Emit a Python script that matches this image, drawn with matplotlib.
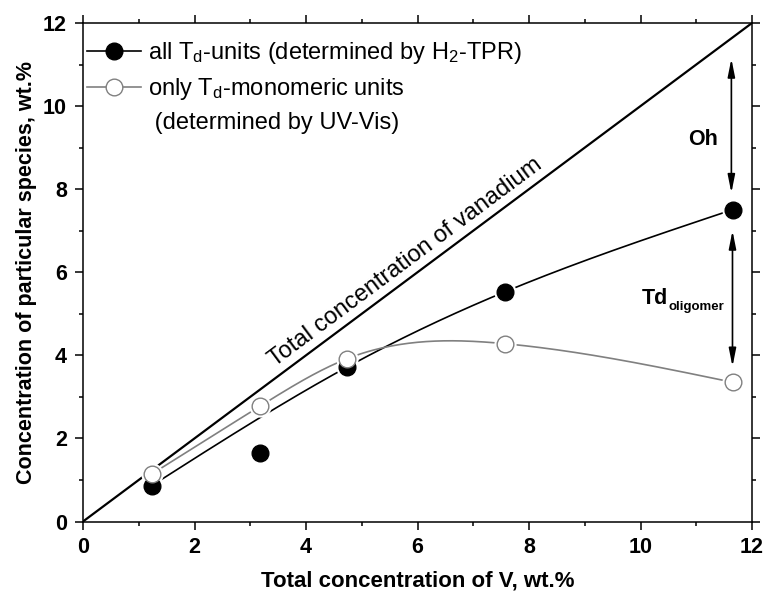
import numpy as np
import matplotlib
matplotlib.use("Agg")
import matplotlib.pyplot as plt
from matplotlib.lines import Line2D
from matplotlib.ticker import MultipleLocator

plt.rcParams['font.family'] = ['Liberation Sans', 'DejaVu Sans']
plt.rcParams['mathtext.fontset'] = 'custom'
plt.rcParams['mathtext.rm'] = 'Liberation Sans'
plt.rcParams['mathtext.it'] = 'Liberation Sans:italic'
plt.rcParams['mathtext.bf'] = 'Liberation Sans:bold'

# ---- data ----
total_v = [1.23, 3.18, 4.74, 7.57, 11.66]
all_td = [0.86, 1.66, 3.72, 5.53, 7.51]
mono_td = [1.14, 2.78, 3.92, 4.28, 3.35]
# the smoothed black curve skips the 2nd sample
all_td_curve_idx = [0, 2, 3, 4]

label_all = r'all T$_{\mathregular{d}}$-units (determined by H$_{\mathregular{2}}$-TPR)'
label_mono = r'only T$_{\mathregular{d}}$-monomeric units'
label_mono2 = ' (determined by UV-Vis)'
xlabel = 'Total concentration of V, wt.%'
ylabel = 'Concentration of particular species, wt.%'
diag_label = 'Total concentration of vanadium'

oh_arrow = (11.63, 11.14, 7.91)
td_arrow = (11.65, 7.0, 3.73)


def natural_spline(x, y, n=200):
    x = np.asarray(x, float)
    y = np.asarray(y, float)
    m = len(x)
    h = np.diff(x)
    A = np.zeros((m, m))
    b = np.zeros(m)
    A[0, 0] = 1
    A[-1, -1] = 1
    for i in range(1, m - 1):
        A[i, i - 1] = h[i - 1]
        A[i, i] = 2 * (h[i - 1] + h[i])
        A[i, i + 1] = h[i]
        b[i] = 6 * ((y[i + 1] - y[i]) / h[i] - (y[i] - y[i - 1]) / h[i - 1])
    M = np.linalg.solve(A, b)
    xs = np.linspace(x[0], x[-1], n)
    ys = np.empty_like(xs)
    for k, xv in enumerate(xs):
        i = min(np.searchsorted(x, xv) - 1, m - 2)
        i = max(i, 0)
        t1 = x[i + 1] - xv
        t0 = xv - x[i]
        ys[k] = (M[i] * t1 ** 3 / (6 * h[i]) + M[i + 1] * t0 ** 3 / (6 * h[i])
                 + (y[i] / h[i] - M[i] * h[i] / 6) * t1
                 + (y[i + 1] / h[i] - M[i + 1] * h[i] / 6) * t0)
    return xs, ys


fig = plt.figure(figsize=(7.64, 5.97), dpi=100)
ax = fig.add_axes([83 / 764, 1 - 521.5 / 597, (752 - 83) / 764, (521.5 - 23) / 597])

ax.set_xlim(0, 12)
ax.set_ylim(0, 12)

# diagonal
ax.plot([0, 12], [0, 12], color='black', lw=1.6, zorder=2)

# smoothed curves
xa = [total_v[i] for i in all_td_curve_idx]
ya = [all_td[i] for i in all_td_curve_idx]
xs, ys = natural_spline(xa, ya)
ax.plot(xs, ys, color='black', lw=1.2, zorder=2)
xs2, ys2 = natural_spline(total_v, mono_td)
ax.plot(xs2, ys2, color='#808080', lw=1.2, zorder=2)

# white halos (gap between line and marker)
ax.plot(total_v, all_td, ls='none', marker='o', ms=16, mfc='white', mec='none', zorder=3)
ax.plot(total_v, mono_td, ls='none', marker='o', ms=16, mfc='white', mec='none', zorder=3)
ax.plot(total_v, all_td, ls='none', marker='o', ms=12, mfc='black', mec='black', zorder=4)
ax.plot(total_v, mono_td, ls='none', marker='o', ms=12, mfc='white', mec='#808080', mew=1.0, zorder=5)

# diagonal label
ax.text(5.78, 6.25, diag_label, fontsize=17, rotation=45, transform_rotates_text=True,
        rotation_mode='anchor', ha='center', va='center', transform=ax.transData)

# arrows
arrowprops = dict(arrowstyle='<|-|>,head_width=0.18,head_length=0.9', color='black', lw=1.2,
                  shrinkA=0, shrinkB=0, mutation_scale=12)
ax.annotate('', xy=(oh_arrow[0], oh_arrow[2]), xytext=(oh_arrow[0], oh_arrow[1]), arrowprops=arrowprops)
ax.annotate('', xy=(td_arrow[0], td_arrow[2]), xytext=(td_arrow[0], td_arrow[1]), arrowprops=arrowprops)
ax.text(11.12, 9.19, 'Oh', fontsize=15.5, fontweight='bold', ha='center', va='center')
td_txt = ax.text(10.02, 5.38, 'Td', fontsize=15.5, fontweight='bold', ha='left', va='center')
ax.annotate('oligomer', xy=(1.02, 0.05), xycoords=td_txt, fontsize=9.5, fontweight='bold',
            ha='left', va='center')

# legend
h1 = Line2D([], [], color='black', lw=1.2, marker='o', ms=12, mfc='black', mec='black')
h2 = Line2D([], [], color='#808080', lw=1.2, marker='o', ms=12, mfc='white', mec='#808080')
h3 = Line2D([], [], color='none')
leg = ax.legend([h1, h2, h3], [label_all, label_mono, label_mono2], loc='upper left',
                bbox_to_anchor=(-0.005, 0.98), frameon=False, fontsize=17, handlelength=2.3,
                handletextpad=0.3, borderaxespad=0.0, borderpad=0.3, labelspacing=0.42)

# axes style
for s in ax.spines.values():
    s.set_linewidth(1.1)
ax.xaxis.set_major_locator(MultipleLocator(2))
ax.xaxis.set_minor_locator(MultipleLocator(1))
ax.yaxis.set_major_locator(MultipleLocator(2))
ax.yaxis.set_minor_locator(MultipleLocator(1))
ax.tick_params(which='both', direction='out', top=True, right=True, width=1.1)
ax.tick_params(which='major', length=5.5, labelsize=15.5, pad=6)
ax.tick_params(which='minor', length=3)
for lab in ax.get_xticklabels() + ax.get_yticklabels():
    lab.set_fontweight('bold')

ax.set_xlabel(xlabel, fontsize=16, fontweight='bold', labelpad=9)
ax.set_ylabel(ylabel, fontsize=15.5, fontweight='bold', labelpad=4)

fig.savefig('out.png', dpi=100)
